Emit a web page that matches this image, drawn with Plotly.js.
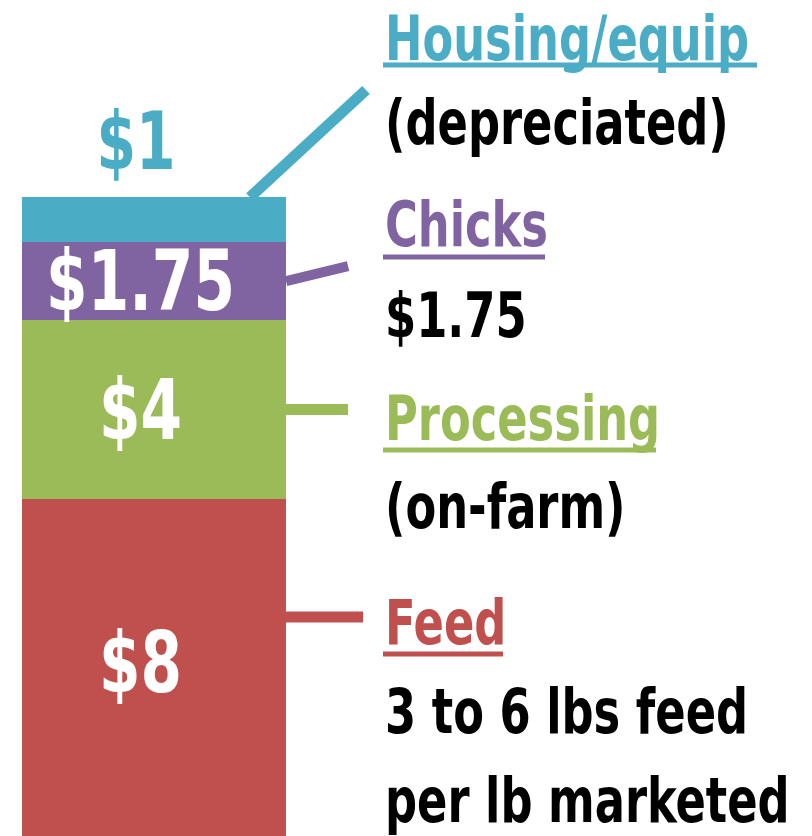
<!DOCTYPE html>
<html>
<head>
<meta charset="utf-8">
<script src="https://cdn.plot.ly/plotly-3.0.1.min.js"></script>
<style>html,body{margin:0;padding:0;background:#fff;}#chart{width:812px;height:836px;}</style>
</head>
<body>
<div id="chart"></div>
<script>
// ---- data ----
const categories = ['Feed', 'Processing', 'Chicks', 'Housing/equip'];
const costs = [8, 4, 1.75, 1];
const valueLabels = ['$8', '$4', '$1.75', '$1'];
const notesLine1 = ['3 to 6 lbs feed', '(on-farm)', '$1.75', '(depreciated)'];
const notesLine2 = ['per lb marketed', '', '', ''];
const colors = ['#C0504D', '#9BBB59', '#8064A2', '#4BACC6'];

const FONT = '"DejaVu Sans Condensed", "Liberation Sans Narrow", sans-serif';
const W = 812, H = 836;
const px = x => x / W;          // pixel -> paper x
const py = y => 1 - y / H;      // pixel -> paper y
const SQUEEZE = 0.79;           // horizontal condensing of the bold face (style)

const traces = categories.map((c, i) => ({
  type: 'bar', x: [0], y: [costs[i]], name: c, width: 1,
  marker: {color: colors[i], line: {width: 0}},
  hoverinfo: 'skip', showlegend: false
}));

// cumulative bounds
const bottoms = [], tops = [];
let acc = 0;
costs.forEach(v => { bottoms.push(acc); acc += v; tops.push(acc); });
const mids = costs.map((v, i) => bottoms[i] + v / 2);

const annotations = [];
// value labels on the bar
const labelY = [4.33, mids[1], mids[2], tops[3] + 1.25];
valueLabels.forEach((t, i) => {
  annotations.push({
    xref: 'x', yref: 'y', x: i === 3 ? -0.07 : -0.053, y: labelY[i], text: t, showarrow: false,
    xanchor: 'center', yanchor: 'middle',
    font: {family: FONT, size: i === 3 ? 80 : 84, weight: 700, color: i === 3 ? colors[3] : '#ffffff'}
  });
});

// right side legend texts (pixel centers of cap height)
const titleY = [622.5, 418.5, 224.5, 34.5];
const line1Y = [712, 506.5, 315.5, 123];
const line2Y = [801, null, null, null];
const ulY = [654, 450, 257, 65];
const ulX1 = [503, 656, 545, 757];
const shapes = [];
const FS = 63;
const capOff = 0.5;
categories.forEach((c, i) => {
  const top = (i === 3);
  annotations.push({xref: 'paper', yref: 'paper', x: px(383), y: top ? 1 : py(titleY[i] - capOff), text: c,
    showarrow: false, xanchor: 'left', yanchor: top ? 'top' : 'middle',
    font: {family: FONT, size: FS, weight: 700, color: colors[i]}});
  annotations.push({xref: 'paper', yref: 'paper', x: px(383), y: py(line1Y[i] - capOff), text: notesLine1[i],
    showarrow: false, xanchor: 'left', yanchor: 'middle',
    font: {family: FONT, size: FS, weight: 700, color: '#000000'}});
  if (notesLine2[i]) {
    annotations.push({xref: 'paper', yref: 'paper', x: px(383), y: py(line2Y[i] - capOff), text: notesLine2[i],
      showarrow: false, xanchor: 'left', yanchor: 'middle',
      font: {family: FONT, size: FS, weight: 700, color: '#000000'}});
  }
  shapes.push({type: 'line', xref: 'paper', yref: 'paper', x0: px(383), x1: px(ulX1[i]),
    y0: py(ulY[i]), y1: py(ulY[i]), line: {color: colors[i], width: 5}});
});

// leader lines (data coords, starting at the bar)
shapes.push({type: 'line', xref: 'x', yref: 'y', x0: 0.3636, y0: tops[3], x1: 0.803, y1: 17.15,
  line: {color: colors[3], width: 11}});
shapes.push({type: 'line', xref: 'x', yref: 'y', x0: 0.5, y0: mids[2], x1: 0.735, y1: 13.21,
  line: {color: colors[2], width: 10}});
shapes.push({type: 'line', xref: 'x', yref: 'y', x0: 0.5, y0: mids[1], x1: 0.735, y1: mids[1],
  line: {color: colors[1], width: 11}});
shapes.push({type: 'line', xref: 'x', yref: 'y', x0: 0.5, y0: 5.36, x1: 0.792, y1: 5.36,
  line: {color: colors[0], width: 11}});

const layout = {
  width: W, height: H,
  margin: {l: 0, r: 0, t: 0, b: 0, pad: 0},
  paper_bgcolor: '#ffffff', plot_bgcolor: '#ffffff',
  barmode: 'stack', bargap: 0,
  xaxis: {range: [-0.5833, 2.4924], visible: false, fixedrange: true},
  yaxis: {range: [0.46, 19.163], visible: false, fixedrange: true},
  annotations: annotations, shapes: shapes,
  showlegend: false
};

function condense(gd) {
  gd.querySelectorAll('g.annotation').forEach(g => {
    const idx = +g.getAttribute('data-index');
    const ann = annotations[idx];
    const t = g.querySelector('text.annotation-text');
    if (!t || !ann) return;
    const bb = t.getBBox();
    const ax = ann.xanchor === 'left' ? bb.x : bb.x + bb.width / 2;
    t.setAttribute('transform', `translate(${ax},0) scale(${SQUEEZE},1) translate(${-ax},0)`);
  });
}

Plotly.newPlot('chart', traces, layout, {displayModeBar: false, staticPlot: true})
  .then(gd => condense(gd));
</script>
</body>
</html>
